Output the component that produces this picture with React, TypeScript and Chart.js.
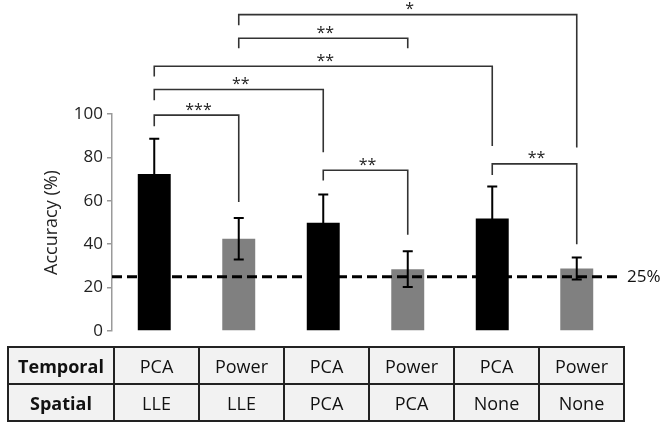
import React, { useEffect, useRef } from "react";
import { Chart, registerables } from "chart.js";

Chart.register(...registerables);

const categories = ["PCA / LLE", "Power / LLE", "PCA / PCA", "Power / PCA", "PCA / None", "Power / None"];
const temporalRow = ["PCA", "Power", "PCA", "Power", "PCA", "Power"];
const spatialRow = ["LLE", "LLE", "PCA", "PCA", "None", "None"];
const accuracy = [72.3, 42.5, 49.9, 28.5, 51.9, 28.8];
const errors = [16.3, 9.6, 13.0, 8.2, 14.7, 5.1];
const chanceLevel = 25;
const chanceLabel = "25%";
const yTicks = [0, 20, 40, 60, 80, 100];

const bracketFrom = [1, 1, 0, 0, 0, 2, 4];
const bracketTo = [5, 3, 4, 2, 1, 3, 5];
const bracketTop = [145.8, 134.9, 122.0, 111.3, 99.5, 74.1, 77.0];
const bracketLeftEnd = [140.9, 130.3, 117.3, 106.3, 94.4, 69.4, 71.9];
const bracketRightEnd = [84.6, 130.3, 85.2, 82.4, 59.4, 44.3, 40.0];
const bracketStars = ["*", "**", "**", "**", "***", "**", "**"];

const FONT = "'Open Sans', sans-serif";
const BLACK = "#000000";
const GREY = "#808080";

const overlayPlugin = {
  id: "overlay",
  afterDatasetsDraw(chart: any) {
    const { ctx, chartArea } = chart;
    const y = chart.scales.y;
    const meta = chart.getDatasetMeta(0);
    const xs = meta.data.map((b: any) => b.x);

    ctx.save();
    // chance line
    ctx.strokeStyle = "#000";
    ctx.lineWidth = 3;
    ctx.setLineDash([10, 5]);
    const yc = y.getPixelForValue(chanceLevel);
    ctx.beginPath();
    ctx.moveTo(chartArea.left, yc);
    ctx.lineTo(chartArea.right, yc);
    ctx.stroke();
    ctx.setLineDash([]);

    ctx.fillStyle = "#111";
    ctx.font = `17px ${FONT}`;
    ctx.textAlign = "left";
    ctx.textBaseline = "middle";
    ctx.fillText(chanceLabel, chartArea.right + 8, yc);

    // error bars
    ctx.strokeStyle = "#000";
    ctx.lineWidth = 2;
    accuracy.forEach((v, i) => {
      const x = xs[i];
      const yt = y.getPixelForValue(v + errors[i]);
      const yb = y.getPixelForValue(v - errors[i]);
      ctx.beginPath();
      ctx.moveTo(x, yt);
      ctx.lineTo(x, yb);
      ctx.moveTo(x - 5, yt);
      ctx.lineTo(x + 5, yt);
      ctx.moveTo(x - 5, yb);
      ctx.lineTo(x + 5, yb);
      ctx.stroke();
    });

    // significance brackets
    ctx.strokeStyle = "#333";
    ctx.lineWidth = 1.6;
    ctx.fillStyle = "#222";
    ctx.font = `16px ${FONT}`;
    ctx.textAlign = "center";
    ctx.textBaseline = "middle";
    bracketFrom.forEach((f, i) => {
      const x1 = xs[f];
      const x2 = xs[bracketTo[i]];
      const yt = y.getPixelForValue(bracketTop[i]);
      const yl = y.getPixelForValue(bracketLeftEnd[i]);
      const yr = y.getPixelForValue(bracketRightEnd[i]);
      ctx.beginPath();
      ctx.moveTo(x1, yl);
      ctx.lineTo(x1, yt);
      ctx.lineTo(x2, yt);
      ctx.lineTo(x2, yr);
      ctx.stroke();
      ctx.fillText(bracketStars[i], (x1 + x2) / 2 + 2, yt - 5);
    });
    ctx.restore();
  },
};

export default function App() {
  const ref = useRef<HTMLCanvasElement | null>(null);

  useEffect(() => {
    if (!ref.current) return;
    const chart = new Chart(ref.current, {
      type: "bar",
      data: {
        labels: categories,
        datasets: [
          {
            data: accuracy,
            backgroundColor: temporalRow.map((t) => (t === "PCA" ? BLACK : GREY)),
            borderWidth: 0,
            barPercentage: 0.39,
            categoryPercentage: 1,
          },
        ],
      },
      options: {
        animation: false,
        responsive: false,
        maintainAspectRatio: false,
        layout: { padding: { left: 0, right: 45, top: 114, bottom: 94 } },
        plugins: { legend: { display: false }, tooltip: { enabled: false } },
        scales: {
          x: { display: false, offset: true },
          y: {
            min: 0,
            max: 100,
            afterBuildTicks: (s: any) => {
              s.ticks = yTicks.map((v) => ({ value: v }));
            },
            afterFit: (s: any) => {
              s.width = 112;
            },
            ticks: {
              color: "#222",
              font: { family: FONT, size: 17 },
              padding: 4,
            },
            grid: {
              drawOnChartArea: false,
              drawTicks: true,
              tickLength: 5,
              color: "#9a9a9a",
              lineWidth: 1.5,
            },
            border: { display: true, color: "#9a9a9a", width: 1.5 },
            title: {
              display: true,
              text: "Accuracy (%)",
              color: "#222",
              font: { family: FONT, size: 18 },
              padding: { top: 41, bottom: 0 },
            },
          },
        },
      },
      plugins: [overlayPlugin],
    });
    return () => chart.destroy();
  }, []);

  const cell: React.CSSProperties = {
    border: "2px solid #222",
    textAlign: "center",
    verticalAlign: "middle",
    padding: 0,
    height: 35,
    background: "#f2f2f2",
    color: "#111",
  };
  const head: React.CSSProperties = { ...cell, fontWeight: 700 };

  return (
    <div style={{ position: "fixed", left: 0, top: 0, width: 664, height: 425, background: "#fff", overflow: "hidden" }}>
      <canvas ref={ref} width={664} height={425} style={{ position: "absolute", left: 0, top: 0, width: 664, height: 425 }} />
      <table
        style={{
          position: "absolute",
          left: 7,
          top: 346,
          borderCollapse: "collapse",
          tableLayout: "fixed",
          width: 616,
          fontFamily: FONT,
          fontSize: 18,
          lineHeight: "20px",
        }}
      >
        <colgroup>
          <col style={{ width: 106 }} />
          {temporalRow.map((_, i) => (
            <col key={i} style={{ width: 85 }} />
          ))}
        </colgroup>
        <tbody>
          <tr>
            <td style={head}>Temporal</td>
            {temporalRow.map((t, i) => (
              <td key={i} style={cell}>{t}</td>
            ))}
          </tr>
          <tr>
            <td style={head}>Spatial</td>
            {spatialRow.map((t, i) => (
              <td key={i} style={cell}>{t}</td>
            ))}
          </tr>
        </tbody>
      </table>
    </div>
  );
}
